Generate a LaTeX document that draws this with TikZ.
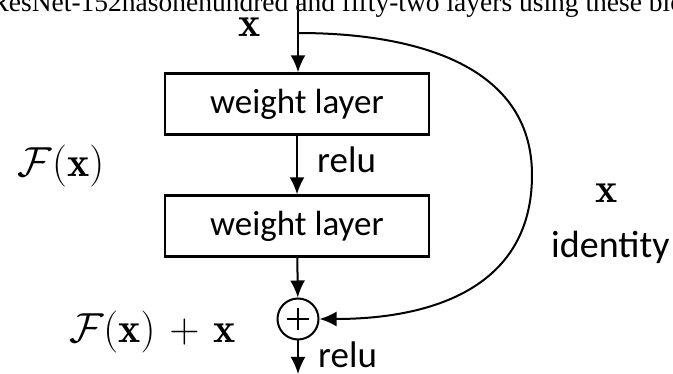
\RequirePackage{fix-cm}
\documentclass[tikz,border=0pt]{standalone}
\usepackage{fontspec}
\newfontfamily\carlito{Carlito}
\newfontfamily\timesfont{Liberation Serif}
\usetikzlibrary{arrows.meta}
\tikzset{
  wbox/.style={draw, line width=2.4pt, minimum width=264pt, minimum height=61pt, inner sep=0pt, font=\carlito\fontsize{35}{40}\selectfont},
  lbl/.style={inner sep=0pt, font=\carlito\fontsize{37}{40}\selectfont},
  mathlbl/.style={inner sep=0pt, font=\fontsize{42}{46}\selectfont},
  conn/.style={line width=2pt, -{Latex[length=17pt,width=15pt]}},
}
\begin{document}
\begin{tikzpicture}[x=1pt,y=-1pt]
\useasboundingbox (0,0) rectangle (673,374);
\node[anchor=base west, inner sep=0pt, font=\timesfont\fontsize{27.5}{30}\selectfont] (top) at (-9.6,11.5) {ResNet-152hasonehundred and fifty-two layers using these blocks};
\node[mathlbl, anchor=base] (xin) at (250,37) {$\mathbf{x}$};
\coordinate (start) at (298,0);
\coordinate (split) at (298,33);
\coordinate (far) at (532,175);
\node[wbox] (w1) at (297,104) {weight layer};
\node[wbox] (w2) at (297,226) {weight layer};
\node[draw, circle, line width=2pt, minimum size=41pt, inner sep=0pt] (plus) at (298,319) {};
\draw[line width=2pt] ([yshift=-11pt]plus.center) -- ([yshift=11pt]plus.center) ([xshift=-11pt]plus.center) -- ([xshift=11pt]plus.center);
\coordinate (endpt) at (298,374);
\draw[conn] (start) -- (start |- w1.north);
\draw[conn] (w1) -- (w2);
\draw[conn] (w2) -- (plus);
\draw[conn] (plus) -- (endpt);
\draw[conn] (split) to[out=0,in=90,looseness=1.05] (far) to[out=-90,in=0,looseness=1.12] (plus.east);
\node[lbl, anchor=base west] (relu1) at (317,173) {relu};
\node[lbl, anchor=base west] (relu2) at (318,368) {relu};
\node[mathlbl] (fx) at (61,166) {$\mathcal{F}(\mathbf{x})$};
\node[mathlbl, anchor=base east] (fxx) at (236,343) {\medmuskip=6mu$\mathcal{F}(\mathbf{x})+\mathbf{x}$};
\node[mathlbl, anchor=base] (xid) at (607,203) {$\mathbf{x}$};
\node[lbl, anchor=base west, font=\carlito\fontsize{38}{40}\selectfont] (ident) at (551,258) {identity};
\end{tikzpicture}
\end{document}
